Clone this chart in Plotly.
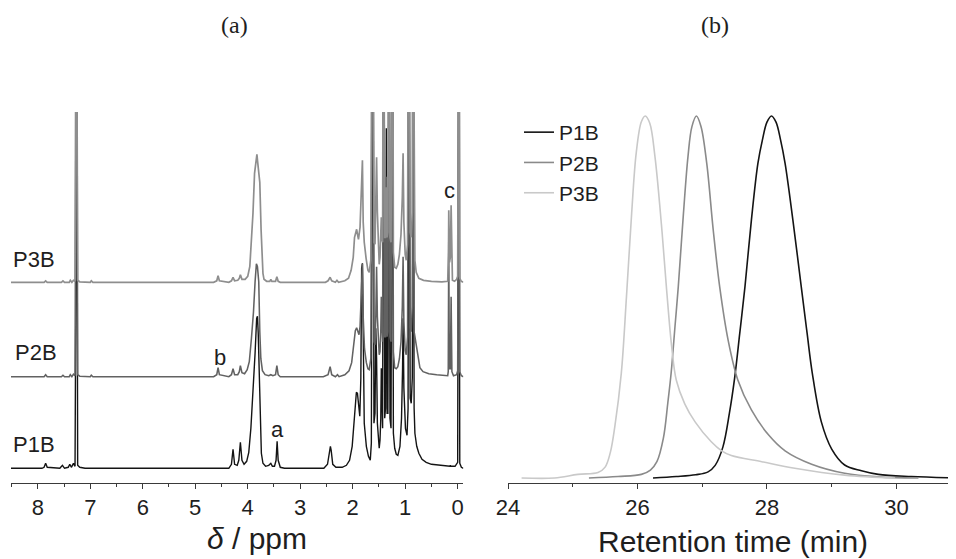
import plotly.graph_objects as go

# ---------------- data: (a) 1H NMR spectra, (ppm, intensity above own baseline) ----------------
CLIP = 400  # peaks running off the top of the panel

P1B_NMR = [
    (8.52, 0), (7.92, 0), (7.88, 1), (7.85, 5), (7.82, 1), (7.58, 0), (7.53, 3), (7.49, 0),
    (7.42, 1), (7.39, 4), (7.36, 1), (7.32, 5), (7.29, 2), (7.265, CLIP), (7.255, CLIP),
    (7.24, 3), (7.20, 1), (7.10, 0),
    (4.36, 0), (4.31, 4), (4.28, 19), (4.25, 4), (4.20, 3), (4.17, 8), (4.14, 26), (4.11, 8),
    (4.07, 4), (4.02, 7), (3.98, 16), (3.94, 40), (3.90, 75), (3.86, 115), (3.83, 150),
    (3.815, 152), (3.80, 135), (3.78, 90), (3.76, 40), (3.74, 15), (3.71, 5), (3.66, 2),
    (3.60, 3), (3.56, 5), (3.53, 2), (3.49, 2), (3.46, 8), (3.44, 27), (3.42, 8), (3.38, 1),
    (3.30, 0),
    (2.55, 0), (2.48, 4), (2.44, 20), (2.425, 22), (2.41, 18), (2.38, 4), (2.32, 1), (2.20, 1),
    (2.12, 3), (2.06, 8), (2.01, 22), (1.97, 50), (1.93, 76), (1.91, 75), (1.88, 55),
    (1.865, 52), (1.845, 90), (1.83, 200), (1.815, 205), (1.80, 120), (1.78, 45), (1.74, 22),
    (1.70, 12), (1.665, 8), (1.645, 25), (1.625, CLIP), (1.61, CLIP), (1.595, 45), (1.575, 55),
    (1.56, 140), (1.545, 110), (1.53, 45), (1.51, 25), (1.495, 20), (1.48, 28), (1.465, 50),
    (1.455, 100), (1.445, 50), (1.43, 40), (1.415, CLIP), (1.405, CLIP), (1.39, 50),
    (1.375, 60), (1.36, 340), (1.345, 55), (1.33, 55), (1.315, CLIP), (1.305, CLIP), (1.29, 50),
    (1.27, 40), (1.25, CLIP), (1.24, CLIP), (1.225, 35), (1.20, 20), (1.17, 14), (1.14, 13),
    (1.10, 22), (1.07, 50), (1.05, 100), (1.04, 150), (1.025, 80), (0.995, 40), (0.965, 33),
    (0.945, 60), (0.935, CLIP), (0.925, CLIP), (0.905, 70), (0.885, 65), (0.865, 90),
    (0.855, CLIP), (0.845, CLIP), (0.83, 60), (0.815, 35), (0.78, 22), (0.74, 15), (0.68, 9),
    (0.60, 6), (0.50, 4), (0.35, 3), (0.20, 2), (0.15, 2), (0.14, 3), (0.13, 2), (0.05, 2),
    (0.0, 6), (-0.015, CLIP), (-0.025, CLIP), (-0.04, 5), (-0.07, 1), (-0.11, 0),
]

P2B_NMR = [
    (8.52, 0), (7.88, 0), (7.85, 2), (7.82, 0), (7.55, 0), (7.52, 1.5), (7.49, 0), (7.40, 0),
    (7.38, 2), (7.35, 0), (7.32, 2.5), (7.29, 1), (7.265, CLIP), (7.255, CLIP), (7.24, 2),
    (7.20, 0.5), (7.00, 0), (6.98, 1.5), (6.95, 0),
    (4.65, 0), (4.59, 2), (4.565, 9), (4.54, 2), (4.36, 0), (4.31, 2), (4.28, 8), (4.25, 2),
    (4.19, 2), (4.16, 5), (4.14, 11), (4.11, 4), (4.06, 3), (4.01, 7), (3.97, 15), (3.93, 38),
    (3.89, 65), (3.86, 95), (3.835, 113), (3.815, 110), (3.79, 95), (3.77, 45), (3.75, 18),
    (3.72, 6), (3.67, 2), (3.60, 1), (3.56, 2), (3.52, 1), (3.47, 2), (3.445, 11), (3.42, 2),
    (3.38, 0),
    (2.56, 0), (2.47, 2), (2.43, 10), (2.40, 2), (2.33, 0), (2.29, 2), (2.26, 0), (2.15, 2),
    (2.07, 6), (2.02, 14), (1.98, 32), (1.95, 46), (1.925, 49), (1.90, 46), (1.88, 42),
    (1.86, 50), (1.835, 90), (1.815, 113), (1.80, 60), (1.775, 28), (1.74, 14), (1.71, 8),
    (1.685, 7), (1.655, 18), (1.625, CLIP), (1.61, CLIP), (1.595, 35), (1.575, 32), (1.56, 60),
    (1.545, 110), (1.53, 60), (1.51, 25), (1.495, 22), (1.48, 25), (1.465, 45), (1.455, 80),
    (1.445, 40), (1.43, 35), (1.415, CLIP), (1.405, CLIP), (1.39, 40), (1.375, 40), (1.36, 200),
    (1.345, 40), (1.33, 45), (1.315, CLIP), (1.305, CLIP), (1.29, 40), (1.27, 35), (1.25, CLIP),
    (1.24, CLIP), (1.225, 25), (1.20, 9), (1.17, 8), (1.14, 10), (1.11, 18), (1.08, 35),
    (1.055, 70), (1.04, 120), (1.025, 55), (1.00, 26), (0.98, 22), (0.955, 40), (0.935, CLIP),
    (0.925, CLIP), (0.905, 50), (0.885, 45), (0.865, 70), (0.855, CLIP), (0.845, CLIP),
    (0.83, 45), (0.81, 38), (0.785, 28), (0.76, 18), (0.72, 9), (0.66, 5), (0.55, 3), (0.40, 2),
    (0.25, 1), (0.19, 1), (0.18, 5), (0.17, 140), (0.16, 8), (0.14, 8), (0.125, 80), (0.11, 5),
    (0.08, 1), (0.02, 2), (0.0, 6), (-0.015, CLIP), (-0.025, CLIP), (-0.04, 5), (-0.07, 1),
    (-0.11, 0),
]

P3B_NMR = [
    (8.52, 0), (7.88, 0), (7.85, 1.5), (7.82, 0), (7.55, 0), (7.52, 1.5), (7.49, 0), (7.40, 0),
    (7.38, 2), (7.35, 0), (7.32, 2), (7.29, 1), (7.265, CLIP), (7.255, CLIP), (7.24, 2),
    (7.20, 0.5), (7.00, 0), (6.98, 1.5), (6.95, 0),
    (4.65, 0), (4.59, 1.5), (4.565, 6.5), (4.54, 1.5), (4.36, 0), (4.31, 1.5), (4.28, 5),
    (4.25, 1.5), (4.19, 2), (4.16, 4), (4.14, 7.5), (4.11, 3), (4.05, 3), (4.00, 6), (3.96, 16),
    (3.93, 39), (3.90, 69), (3.87, 109), (3.845, 122), (3.825, 128), (3.81, 120), (3.795, 110),
    (3.77, 100), (3.745, 52), (3.725, 20), (3.71, 9), (3.69, 3), (3.64, 1), (3.58, 1),
    (3.56, 3), (3.54, 1), (3.47, 1), (3.445, 5.5), (3.42, 1), (3.38, 0),
    (2.52, 0), (2.47, 1.5), (2.43, 5), (2.40, 1.5), (2.33, 0), (2.30, 2), (2.27, 0), (2.15, 1.5),
    (2.08, 4), (2.03, 12), (1.99, 25), (1.965, 45), (1.94, 50), (1.925, 53), (1.905, 47),
    (1.89, 43), (1.86, 55), (1.835, 95), (1.815, 122), (1.80, 60), (1.78, 40), (1.745, 24),
    (1.71, 12), (1.685, 10), (1.655, 22), (1.625, CLIP), (1.61, CLIP), (1.595, 40), (1.575, 38),
    (1.56, 70), (1.545, 125), (1.53, 70), (1.51, 25), (1.495, 18), (1.48, 25), (1.465, 45),
    (1.455, 65), (1.445, 45), (1.43, 40), (1.415, CLIP), (1.405, CLIP), (1.39, 45), (1.375, 45),
    (1.36, 95), (1.345, 45), (1.33, 50), (1.315, CLIP), (1.305, CLIP), (1.29, 45), (1.27, 40),
    (1.25, CLIP), (1.24, CLIP), (1.225, 30), (1.20, 15), (1.17, 14), (1.14, 18), (1.11, 28),
    (1.08, 48), (1.055, 85), (1.04, 129), (1.025, 60), (1.00, 28), (0.98, 22), (0.955, 38),
    (0.935, CLIP), (0.925, CLIP), (0.905, 50), (0.885, 45), (0.865, 70), (0.855, CLIP),
    (0.845, CLIP), (0.83, 35), (0.815, 22), (0.79, 10), (0.74, 4), (0.65, 2), (0.50, 1),
    (0.30, 0.5), (0.19, 1), (0.175, 30), (0.17, 72), (0.155, 20), (0.14, 25), (0.125, 77),
    (0.115, 15), (0.10, 2), (0.06, 1), (0.02, 3), (0.0, 6), (-0.015, CLIP), (-0.025, CLIP),
    (-0.04, 4), (-0.07, 1), (-0.11, 0),
]

# ---------------- data: (b) GPC traces, retention time (min) vs normalised signal ----------------
P1B_T = [26.24, 26.60, 26.90, 27.09, 27.20, 27.32, 27.42, 27.50, 27.58, 27.66, 27.76, 27.86,
         27.93, 28.00, 28.07, 28.14, 28.21, 28.28, 28.40, 28.53, 28.62, 28.70, 28.84, 29.00,
         29.20, 29.46, 29.72, 30.23, 30.92]
P1B_S = [0.0, 0.004, 0.009, 0.017, 0.035, 0.086, 0.179, 0.275, 0.40, 0.528, 0.713, 0.869,
         0.934, 0.983, 1.0, 0.983, 0.934, 0.869, 0.713, 0.528, 0.40, 0.29, 0.155, 0.080,
         0.036, 0.020, 0.010, 0.004, 0.0]

P2B_T = [25.25, 25.70, 26.06, 26.20, 26.30, 26.40, 26.47, 26.52, 26.58, 26.63, 26.71, 26.78,
         26.84, 26.91, 26.98, 27.07, 27.17, 27.27, 27.40, 27.55, 27.76, 28.02, 28.28, 28.69,
         29.20, 29.72, 30.34]
P2B_S = [0.0, 0.004, 0.010, 0.022, 0.045, 0.110, 0.210, 0.290, 0.42, 0.528, 0.731, 0.888,
         0.970, 1.0, 0.972, 0.869, 0.685, 0.528, 0.381, 0.271, 0.188, 0.120, 0.075, 0.038,
         0.013, 0.003, 0.0]

P3B_T = [24.21, 24.72, 25.08, 25.39, 25.50, 25.58, 25.65, 25.75, 25.83, 25.91, 25.98, 26.06,
         26.12, 26.19, 26.27, 26.37, 26.45, 26.53, 26.60, 26.73, 26.89, 27.14, 27.30, 27.45,
         27.92, 28.43, 29.20, 29.98]
P3B_S = [0.0, 0.0, 0.010, 0.015, 0.030, 0.070, 0.142, 0.289, 0.501, 0.731, 0.897, 0.984,
         1.0, 0.980, 0.888, 0.70, 0.52, 0.36, 0.27, 0.205, 0.155, 0.100, 0.075, 0.062,
         0.045, 0.027, 0.008, 0.0]

NMR_TICKS = [8, 7, 6, 5, 4, 3, 2, 1, 0]
GPC_TICKS = [24, 26, 28, 30]

# ---------------- layout constants ----------------
# the page body has an 8 px margin, so the figure is 8 px smaller than the window
BODY = 8
W, H = 956 - BODY, 559 - BODY
PLOT_TOP, PLOT_BOTTOM = 112, 483          # window pixels of the plot area
MT, MB = PLOT_TOP - BODY, 559 - PLOT_BOTTOM
PLOT_H = PLOT_BOTTOM - PLOT_TOP           # 371 px
OFFSETS = {"P1B": 14.7, "P2B": 106.3, "P3B": 200.7}   # vertical stacking of the spectra
NMR_COL = {"P1B": "#141414", "P2B": "#626262", "P3B": "#8e8e8e"}
NMR_W = {"P1B": 1.4, "P2B": 1.55, "P3B": 1.7}
GPC_COL = {"P1B": "#141414", "P2B": "#8a8a8a", "P3B": "#c9c9c9"}
FONT = "Liberation Sans, Arial, sans-serif"
SERIF = "Liberation Serif, Times New Roman, serif"
AX = "#3a3a3a"
TXT = "#1e1e1e"


def px_x(px):
    return (px - BODY) / W


def px_y(py):
    return (PLOT_BOTTOM - py) / PLOT_H


fig = go.Figure()

for name, pts in [("P1B", P1B_NMR), ("P2B", P2B_NMR), ("P3B", P3B_NMR)]:
    fig.add_trace(go.Scatter(
        x=[p[0] for p in pts], y=[OFFSETS[name] + p[1] for p in pts],
        mode="lines", line=dict(color=NMR_COL[name], width=NMR_W[name]),
        xaxis="x", yaxis="y", showlegend=False, hoverinfo="skip", name=name))

for name, t, s in [("P1B", P1B_T, P1B_S), ("P2B", P2B_T, P2B_S), ("P3B", P3B_T, P3B_S)]:
    fig.add_trace(go.Scatter(
        x=t, y=s, mode="lines", name=name,
        line=dict(color=GPC_COL[name], width=1.6, shape="spline", smoothing=1.0),
        xaxis="x2", yaxis="y2", hoverinfo="skip"))

axis_common = dict(
    showline=True, linecolor=AX, linewidth=1, ticks="outside", ticklen=5, tickwidth=1,
    tickcolor=AX, showgrid=False, zeroline=False, automargin=False,
    tickfont=dict(family=FONT, size=22, color=TXT),
)

fig.update_layout(
    width=W, height=H, autosize=False,
    margin=dict(l=0, r=0, t=MT, b=MB, pad=0, autoexpand=False),
    paper_bgcolor="white", plot_bgcolor="white",
    xaxis=dict(domain=[px_x(11), px_x(463.3)], range=[8.51, -0.107], anchor="y",
               tickmode="array", tickvals=NMR_TICKS, ticktext=[str(v) for v in NMR_TICKS],
               minor=dict(dtick=0.5, tick0=0, ticks="outside", ticklen=3, tickcolor=AX,
                          showgrid=False),
               **axis_common),
    yaxis=dict(domain=[0, 1], range=[0, PLOT_H], visible=False, anchor="x"),
    xaxis2=dict(domain=[px_x(508), 1.0], range=[24, 30.92], anchor="y2",
                tickmode="array", tickvals=GPC_TICKS, ticktext=[str(v) for v in GPC_TICKS],
                minor=dict(dtick=1, tick0=24, ticks="outside", ticklen=3, tickcolor=AX,
                           showgrid=False),
                **axis_common),
    yaxis2=dict(domain=[0, 1], range=[-0.0138, 1.0111], visible=False, anchor="x2"),
    legend=dict(x=px_x(519), y=px_y(112), xanchor="left", yanchor="top",
                font=dict(family=FONT, size=21, color=TXT), bgcolor="rgba(0,0,0,0)",
                tracegroupgap=0),
    showlegend=True,
)

ann = []


def add_ann(text, x, y, size, family=FONT, xref="paper", yref="paper"):
    ann.append(dict(text=text, x=x, y=y, xref=xref, yref=yref, showarrow=False,
                    xanchor="center", yanchor="middle",
                    font=dict(family=family, size=size, color=TXT)))


add_ann("(a)", px_x(234), px_y(25), 24, SERIF)
add_ann("(b)", px_x(715), px_y(25), 24, SERIF)
add_ann("<i>δ</i> / ppm", px_x(256.5), px_y(538), 30)
add_ann("Retention time (min)", px_x(733), px_y(541), 30)
add_ann("P3B", px_x(33.5), px_y(260), 22)
add_ann("P2B", px_x(36), px_y(352), 22)
add_ann("P1B", px_x(34), px_y(444), 22)
# peak labels, placed in data coordinates of panel (a)
add_ann("a", 3.44, 54, 22, xref="x", yref="y")
add_ann("b", 4.53, 126, 22, xref="x", yref="y")
add_ann("c", 0.152, 293, 22, xref="x", yref="y")

fig.update_layout(annotations=ann)

fig.write_html("out.html")
